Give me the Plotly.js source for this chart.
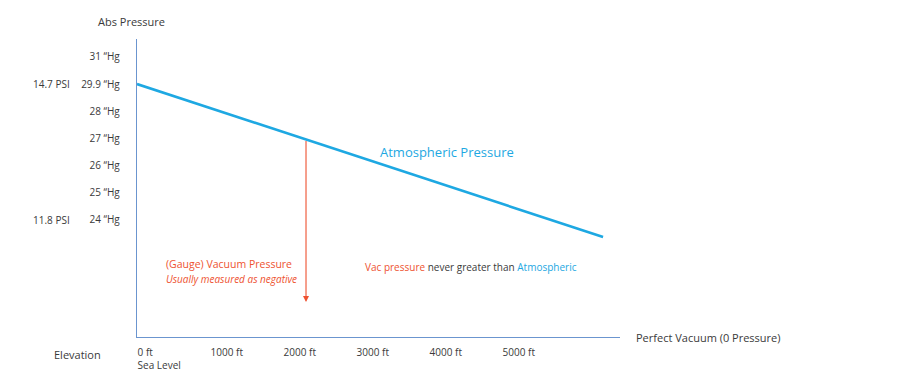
<!DOCTYPE html>
<html>
<head>
<meta charset="utf-8">
<script src="https://cdn.plot.ly/plotly-3.0.1.min.js"></script>
<style>html,body{margin:0;padding:0;background:#fff;}#chart{width:919px;height:381px;}</style>
</head>
<body>
<div id="chart"></div>
<script>
// Elevation axis (ft) and labels
const elevTicks = [0, 1000, 2000, 3000, 4000, 5000];
const elevLabels = ['0 ft<br>Sea Level', '1000 ft', '2000 ft', '3000 ft', '4000 ft', '5000 ft'];
// Pressure axis: evenly spaced label slots (bottom = 0)
const pressSlots = [6, 5, 4, 3, 2, 1, 0];
const pressLabels = ['31 \u201CHg', '29.9 \u201CHg', '28 \u201CHg', '27 \u201CHg', '26 \u201CHg', '25 \u201CHg', '24 \u201CHg'];
const psiSlots = [5, 0];
const psiLabels = ['14.7 PSI', '11.8 PSI'];
// Atmospheric pressure line (elevation ft, pressure slot)
const atmX = [0, 6384];
const atmY = [5, -0.63];
// Vacuum pressure arrow (elevation ft, from slot to slot)
const vacX = 2315;
const vacFrom = 2.96;
const vacTo = -3.02;

const grey = '#3a3a3a';
const blue = '#1ea8e2';
const red = '#ee5230';
const axisCol = '#6b95cf';
const F = 'Open Sans, Segoe UI, sans-serif';

const traces = [{
  x: atmX, y: atmY, type: 'scatter', mode: 'lines',
  line: {color: blue, width: 2.6}, hoverinfo: 'skip', showlegend: false
}];

const ann = [];
ann.push({x: vacX, y: vacTo, ax: vacX, ay: vacFrom, axref: 'x', ayref: 'y', xref: 'x', yref: 'y',
  text: '', showarrow: true, arrowhead: 2, arrowsize: 1.1, arrowwidth: 1.1, arrowcolor: red});
psiLabels.forEach((t, i) => ann.push({x: -0.176, xref: 'paper', y: psiSlots[i], yref: 'y', text: t,
  showarrow: false, xanchor: 'center', yanchor: 'middle', font: {family: F, size: 10, color: grey}}));
ann.push({x: -0.0104, xref: 'paper', y: 1.06, yref: 'paper', text: 'Abs Pressure', showarrow: false,
  xanchor: 'center', yanchor: 'middle', font: {family: F, size: 11, color: grey}});
ann.push({x: -0.124, xref: 'paper', y: -0.06, yref: 'paper', text: 'Elevation', showarrow: false,
  xanchor: 'center', yanchor: 'middle', font: {family: F, size: 11, color: grey}});
ann.push({x: 1.029, xref: 'paper', y: 0, yref: 'paper', text: 'Perfect Vacuum (0 Pressure)', showarrow: false,
  xanchor: 'left', yanchor: 'middle', font: {family: F, size: 11, color: grey}});
ann.push({x: 4247, xref: 'x', y: 2.5, yref: 'y', text: 'Atmospheric Pressure', showarrow: false,
  xanchor: 'center', yanchor: 'middle', font: {family: F, size: 13, color: blue}});
ann.push({x: 370, xref: 'x', y: -1.62, yref: 'y', text: '(Gauge) Vacuum Pressure', showarrow: false,
  xanchor: 'left', yanchor: 'middle', font: {family: F, size: 10.5, color: red}});
ann.push({x: 370, xref: 'x', y: -2.17, yref: 'y', text: '<i>Usually measured as negative</i>', showarrow: false,
  xanchor: 'left', yanchor: 'middle', font: {family: F, size: 10, color: red}});
ann.push({x: 3096, xref: 'x', y: -1.73, yref: 'y',
  text: '<span style="color:' + red + '">Vac pressure</span> never greater than <span style="color:' + blue + '">Atmospheric</span>',
  showarrow: false, xanchor: 'left', yanchor: 'middle', font: {family: F, size: 10, color: grey}});

const layout = {
  width: 919, height: 381,
  margin: {l: 137, r: 299, t: 39, b: 44},
  paper_bgcolor: '#fff', plot_bgcolor: '#fff',
  showlegend: false,
  xaxis: {
    range: [0, 6616], tickmode: 'array', tickvals: elevTicks, ticktext: elevLabels,
    ticklabelposition: 'outside right', ticks: '', showgrid: false, zeroline: false,
    showline: true, linecolor: axisCol, linewidth: 1.2, ticklabelstandoff: 6,
    tickfont: {family: F, size: 10, color: grey}, fixedrange: true
  },
  yaxis: {
    range: [-4.31, 6.66], tickmode: 'array', tickvals: pressSlots, ticktext: pressLabels,
    ticks: '', showgrid: false, zeroline: false, showline: true, linecolor: axisCol, linewidth: 1.2,
    ticklabelstandoff: 14, tickfont: {family: F, size: 10, color: grey}, fixedrange: true
  },
  annotations: ann
};

Plotly.newPlot('chart', traces, layout, {displayModeBar: false, staticPlot: true});
</script>
</body>
</html>
